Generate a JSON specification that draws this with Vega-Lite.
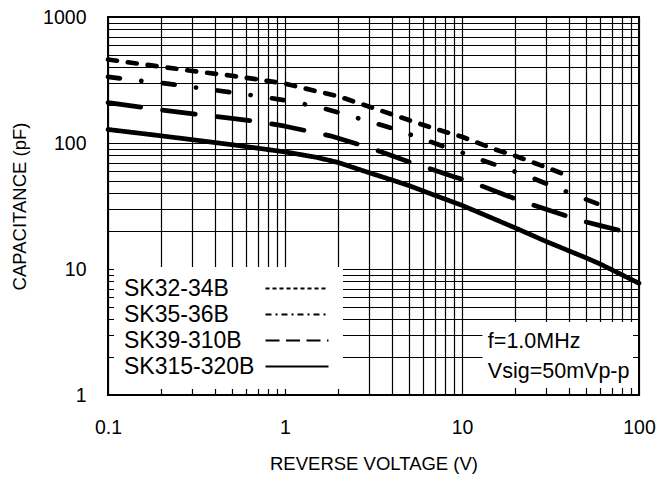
{
  "$schema": "https://vega.github.io/schema/vega-lite/v6.json",
  "width": 531,
  "height": 378,
  "autosize": {"type": "none"},
  "padding": {"left": 108, "top": 17, "right": 33, "bottom": 86},
  "background": "white",
  "config": {"view": {"stroke": "black", "strokeWidth": 2}, "font": "Liberation Sans"},
  "datasets": {
    "curves": [
      {"series": "SK32-34B", "v": 0.1, "c": 460},
      {"series": "SK32-34B", "v": 0.15, "c": 425},
      {"series": "SK32-34B", "v": 0.2, "c": 403},
      {"series": "SK32-34B", "v": 0.3, "c": 373},
      {"series": "SK32-34B", "v": 0.5, "c": 342},
      {"series": "SK32-34B", "v": 0.7, "c": 320},
      {"series": "SK32-34B", "v": 1, "c": 296},
      {"series": "SK32-34B", "v": 1.5, "c": 258},
      {"series": "SK32-34B", "v": 2, "c": 235},
      {"series": "SK32-34B", "v": 3, "c": 194},
      {"series": "SK32-34B", "v": 5, "c": 152},
      {"series": "SK32-34B", "v": 7, "c": 130},
      {"series": "SK32-34B", "v": 10, "c": 112},
      {"series": "SK32-34B", "v": 15, "c": 90},
      {"series": "SK32-34B", "v": 20, "c": 79},
      {"series": "SK32-34B", "v": 30, "c": 64},
      {"series": "SK32-34B", "v": 41, "c": 54},
      {"series": "SK35-36B", "v": 0.1, "c": 335},
      {"series": "SK35-36B", "v": 0.15, "c": 312},
      {"series": "SK35-36B", "v": 0.2, "c": 300},
      {"series": "SK35-36B", "v": 0.3, "c": 278},
      {"series": "SK35-36B", "v": 0.5, "c": 252},
      {"series": "SK35-36B", "v": 0.7, "c": 236},
      {"series": "SK35-36B", "v": 1, "c": 218},
      {"series": "SK35-36B", "v": 1.5, "c": 195},
      {"series": "SK35-36B", "v": 2, "c": 175},
      {"series": "SK35-36B", "v": 3, "c": 148},
      {"series": "SK35-36B", "v": 4, "c": 131},
      {"series": "SK35-36B", "v": 6, "c": 108},
      {"series": "SK35-36B", "v": 8, "c": 93},
      {"series": "SK35-36B", "v": 10, "c": 84},
      {"series": "SK35-36B", "v": 12, "c": 76},
      {"series": "SK35-36B", "v": 16, "c": 66},
      {"series": "SK35-36B", "v": 24, "c": 54},
      {"series": "SK35-36B", "v": 33, "c": 45},
      {"series": "SK35-36B", "v": 47, "c": 37},
      {"series": "SK35-36B", "v": 60, "c": 32.4},
      {"series": "SK39-310B", "v": 0.1, "c": 209},
      {"series": "SK39-310B", "v": 0.2, "c": 183},
      {"series": "SK39-310B", "v": 0.34, "c": 167},
      {"series": "SK39-310B", "v": 0.5, "c": 157},
      {"series": "SK39-310B", "v": 0.7, "c": 148},
      {"series": "SK39-310B", "v": 1, "c": 136},
      {"series": "SK39-310B", "v": 1.8, "c": 114},
      {"series": "SK39-310B", "v": 3, "c": 92},
      {"series": "SK39-310B", "v": 5, "c": 71},
      {"series": "SK39-310B", "v": 6, "c": 65.5},
      {"series": "SK39-310B", "v": 9, "c": 54},
      {"series": "SK39-310B", "v": 12, "c": 47.5},
      {"series": "SK39-310B", "v": 20, "c": 36},
      {"series": "SK39-310B", "v": 23, "c": 33.6},
      {"series": "SK39-310B", "v": 47, "c": 24.2},
      {"series": "SK39-310B", "v": 59, "c": 22.3},
      {"series": "SK39-310B", "v": 100, "c": 18.5},
      {"series": "SK315-320B", "v": 0.1, "c": 128},
      {"series": "SK315-320B", "v": 0.2, "c": 114},
      {"series": "SK315-320B", "v": 0.5, "c": 97},
      {"series": "SK315-320B", "v": 1, "c": 85},
      {"series": "SK315-320B", "v": 1.5, "c": 77},
      {"series": "SK315-320B", "v": 2, "c": 70},
      {"series": "SK315-320B", "v": 3, "c": 58},
      {"series": "SK315-320B", "v": 4, "c": 51},
      {"series": "SK315-320B", "v": 5, "c": 46},
      {"series": "SK315-320B", "v": 7, "c": 38.5},
      {"series": "SK315-320B", "v": 10, "c": 32},
      {"series": "SK315-320B", "v": 20, "c": 21.2},
      {"series": "SK315-320B", "v": 30, "c": 16.5},
      {"series": "SK315-320B", "v": 50, "c": 12.3},
      {"series": "SK315-320B", "v": 60, "c": 11},
      {"series": "SK315-320B", "v": 100, "c": 7.7}
    ]
  },
  "resolve": {"scale": {"strokeDash": "independent"}, "legend": {"strokeDash": "independent"}},
  "layer": [
    {
      "data": {"values": [{}]},
      "mark": {"type": "rect", "fill": "white"},
      "encoding": {
        "x": {"datum": 13.05, "type": "quantitative", "scale": {"type": "log", "domain": [0.1, 100], "nice": false}},
        "x2": {"datum": 92.5},
        "y": {"datum": 1.137, "type": "quantitative", "scale": {"type": "log", "domain": [1, 1000], "nice": false}},
        "y2": {"datum": 3.8}
      }
    },
    {
      "data": {"name": "curves"},
      "mark": {"type": "line", "color": "black", "strokeWidth": 4.7, "strokeCap": "round", "strokeJoin": "round"},
      "encoding": {
        "x": {
          "field": "v", "type": "quantitative",
          "scale": {"type": "log", "domain": [0.1, 100], "nice": false},
          "axis": {
            "title": "REVERSE VOLTAGE (V)",
            "values": [0.1,0.2,0.3,0.4,0.5,0.6,0.7,0.8,0.9,1,2,3,4,5,6,7,8,9,10,20,30,40,50,60,70,80,90,100],
            "format": "~g",
            "labelExpr": "indexof([0.1,1,10,100], datum.value) >= 0 ? datum.label : ''",
            "grid": true, "gridColor": "black", "gridWidth": 1.2, "gridOpacity": 1,
            "ticks": false, "tickSize": 0, "domain": false,
            "labelPadding": 23, "labelFontSize": 19.5, "labelColor": "black", "labelFont": "Liberation Sans",
            "labelFlush": false, "labelOverlap": false,
            "titleFont": "Liberation Sans", "titleFontSize": 18.5, "titleFontWeight": "normal", "titleColor": "black", "titlePadding": 18
          }
        },
        "y": {
          "field": "c", "type": "quantitative",
          "scale": {"type": "log", "domain": [1, 1000], "nice": false},
          "axis": {
            "title": "CAPACITANCE (pF)",
            "values": [1,2,3,4,5,6,7,8,9,10,20,30,40,50,60,70,80,90,100,200,300,400,500,600,700,800,900,1000],
            "format": "~g",
            "labelExpr": "indexof([1,10,100,1000], datum.value) >= 0 ? datum.label : ''",
            "grid": true, "gridColor": "black", "gridWidth": 1.2, "gridOpacity": 1,
            "ticks": false, "tickSize": 0, "domain": false,
            "labelPadding": 22, "labelFontSize": 19.5, "labelColor": "black", "labelFont": "Liberation Sans",
            "labelFlush": false, "labelOverlap": false,
            "titleFont": "Liberation Sans", "titleFontSize": 18.5, "titleFontWeight": "normal", "titleColor": "black", "titlePadding": 13
          }
        },
        "strokeDash": {
          "field": "series", "type": "nominal",
          "scale": {
            "domain": ["SK32-34B", "SK35-36B", "SK39-310B", "SK315-320B"],
            "range": [[9, 11], [12, 21.5, 0.1, 21.5], [33, 22], [1, 0]]
          },
          "legend": null
        }
      }
    },
    {
      "data": {"values": [{}]},
      "mark": {"type": "text", "text": "f=1.0MHz", "align": "left", "baseline": "middle", "fontSize": 21.5, "font": "Liberation Sans", "color": "black"},
      "encoding": {
        "x": {"datum": 14.0, "type": "quantitative", "scale": {"type": "log", "domain": [0.1, 100], "nice": false}},
        "y": {"datum": 2.64, "type": "quantitative", "scale": {"type": "log", "domain": [1, 1000], "nice": false}}
      }
    },
    {
      "data": {"values": [{}]},
      "mark": {"type": "text", "text": "Vsig=50mVp-p", "align": "left", "baseline": "middle", "fontSize": 21.5, "font": "Liberation Sans", "color": "black"},
      "encoding": {
        "x": {"datum": 14.0, "type": "quantitative", "scale": {"type": "log", "domain": [0.1, 100], "nice": false}},
        "y": {"datum": 1.52, "type": "quantitative", "scale": {"type": "log", "domain": [1, 1000], "nice": false}}
      }
    },
    {
      "data": {"name": "curves"},
      "transform": [{"filter": "false"}],
      "mark": {"type": "line", "color": "black", "strokeWidth": 2, "strokeCap": "butt"},
      "encoding": {
        "x": {"field": "v", "type": "quantitative", "scale": {"type": "log", "domain": [0.1, 100], "nice": false}},
        "y": {"field": "c", "type": "quantitative", "scale": {"type": "log", "domain": [1, 1000], "nice": false}},
        "strokeDash": {
          "field": "series", "type": "nominal",
          "scale": {
            "domain": ["SK32-34B", "SK35-36B", "SK39-310B", "SK315-320B"],
            "range": [[4, 3], [6, 4, 2, 4], [14, 6.5], [1, 0]]
          },
          "legend": {
            "title": null,
            "orient": "bottom-left",
            "offset": 6,
            "padding": 10,
            "fillColor": "white",
            "symbolType": "M-3,0H3",
            "symbolSize": 441,
            "symbolStrokeColor": "black",
            "symbolStrokeWidth": 2,
            "symbolOpacity": 1,
            "symbolOffset": 161.5,
            "labelOffset": -184.5,
            "labelFontSize": 23,
            "labelFont": "Liberation Sans",
            "labelColor": "black",
            "labelLimit": 0,
            "rowPadding": 2
          }
        }
      }
    }
  ]
}
